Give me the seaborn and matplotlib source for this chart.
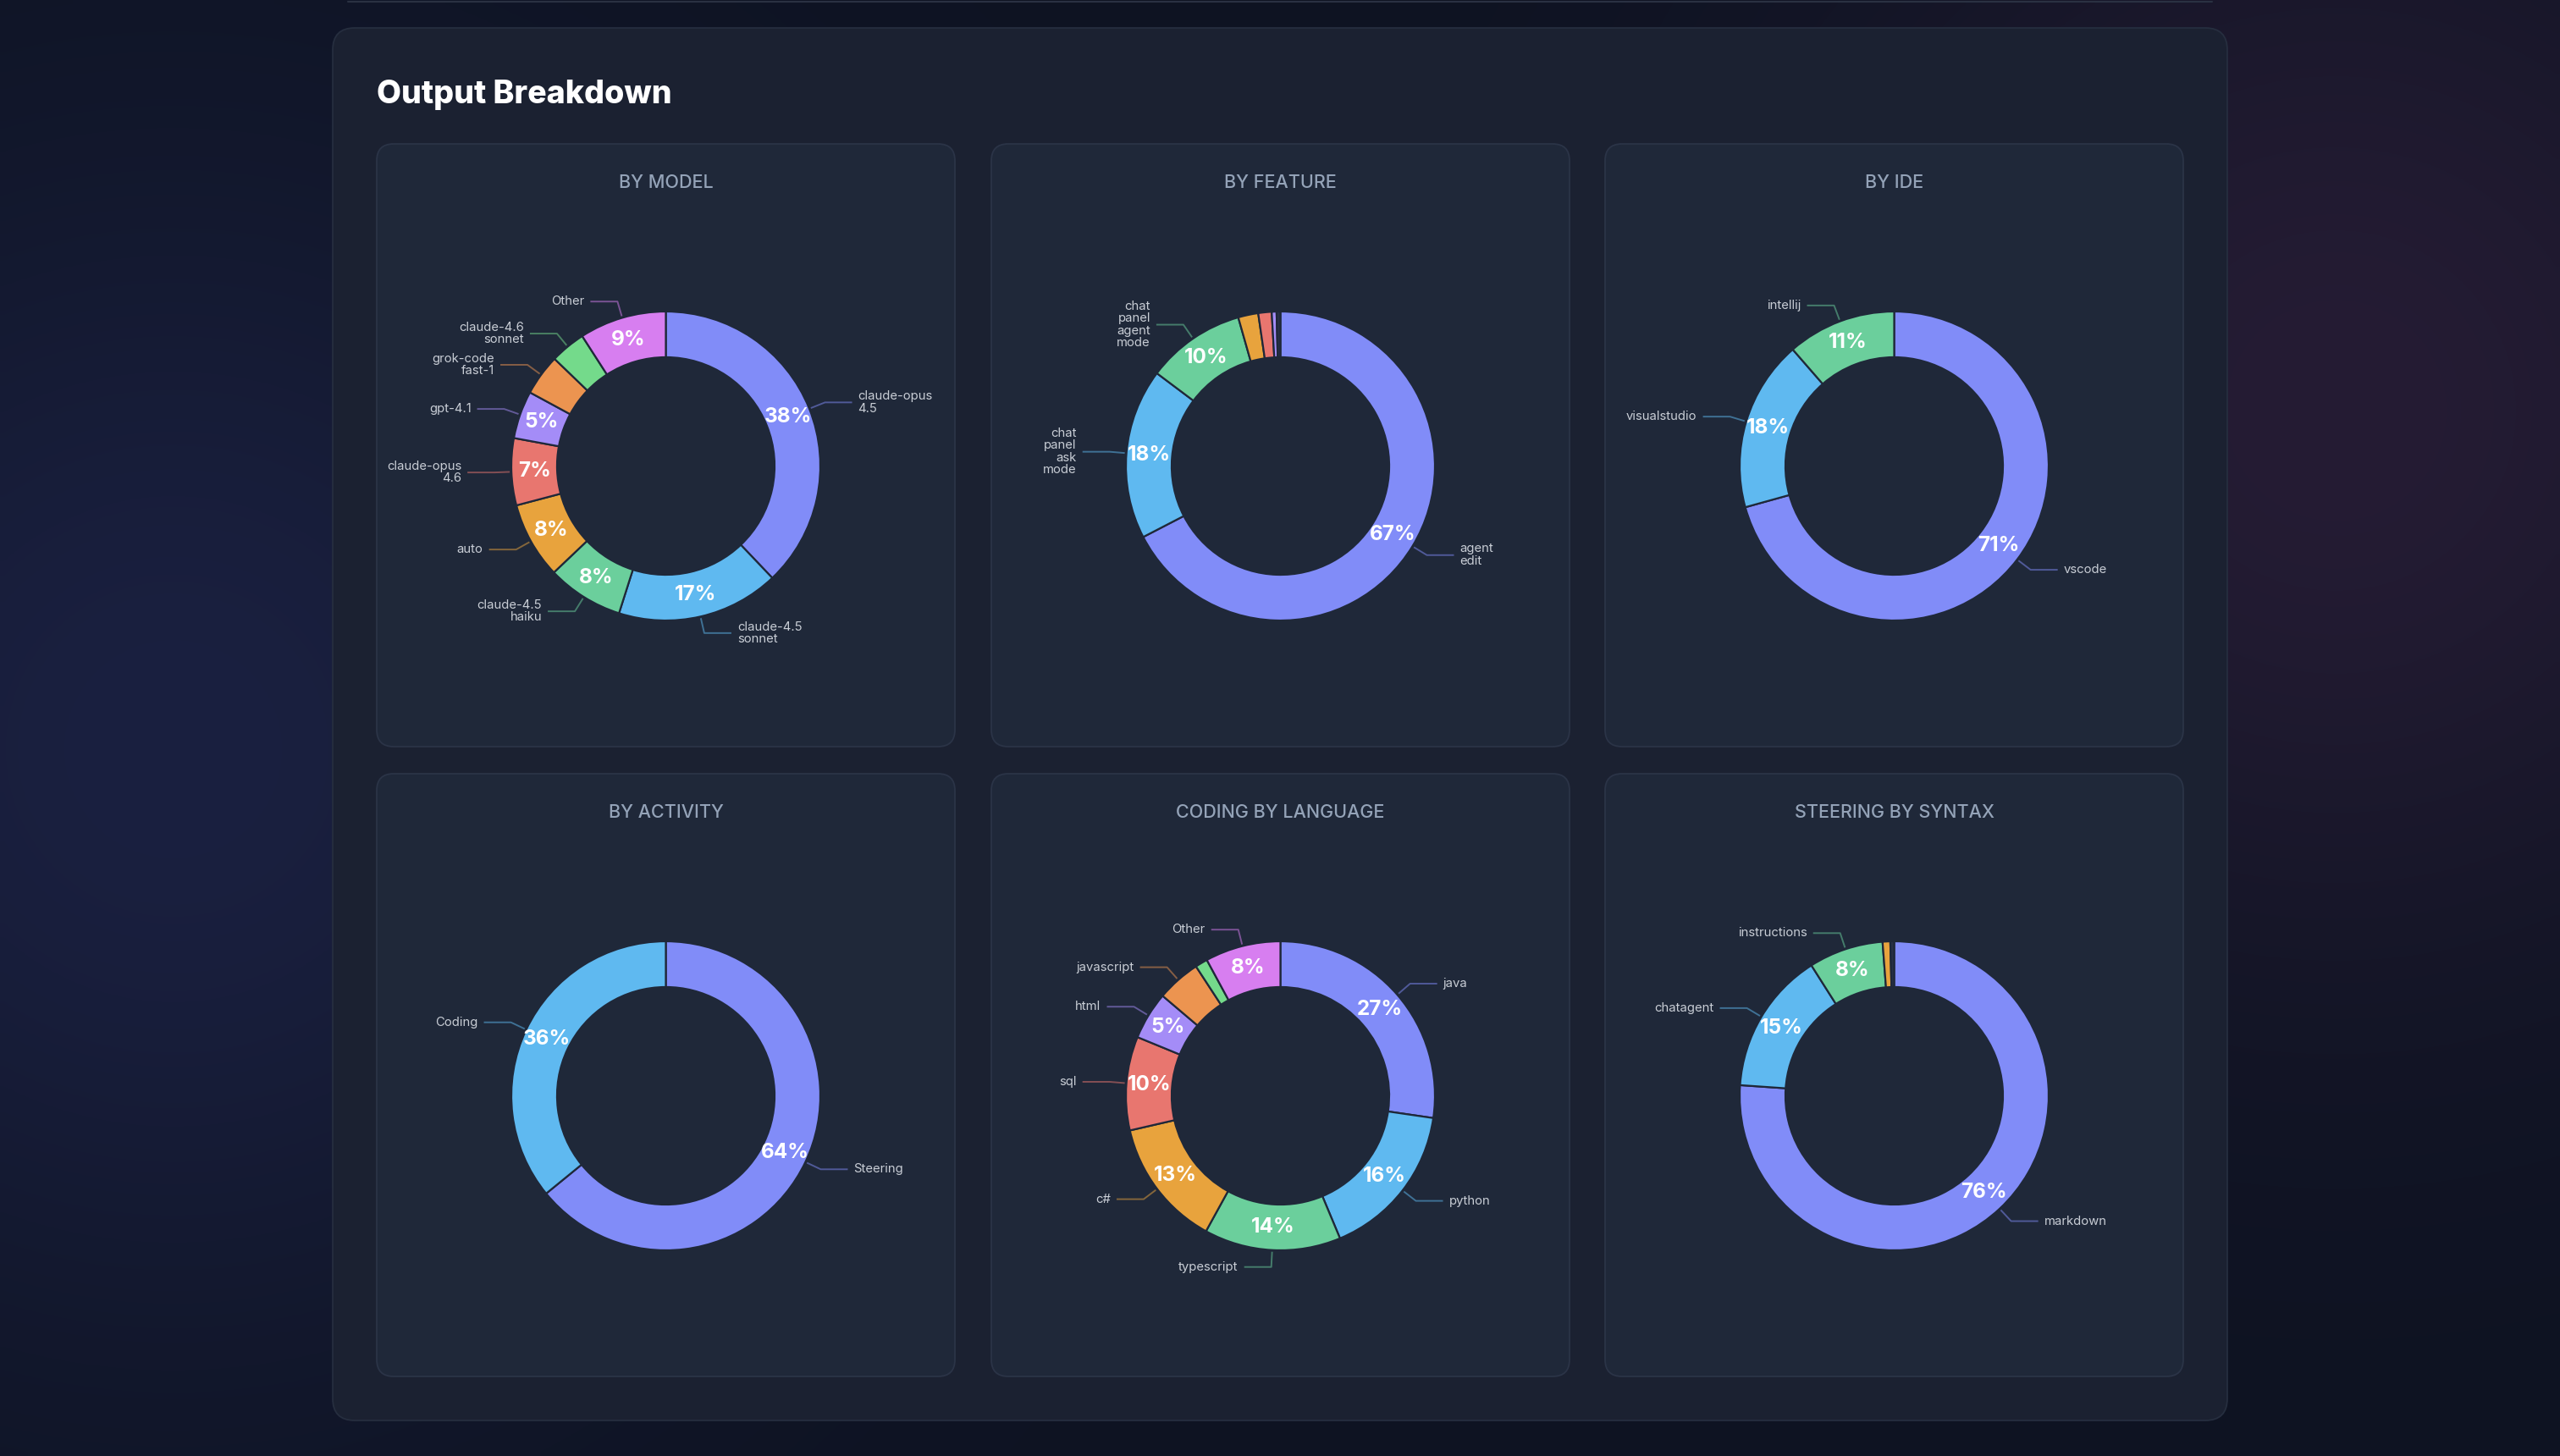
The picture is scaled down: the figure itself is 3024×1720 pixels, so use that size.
import numpy as np
import matplotlib
matplotlib.use("Agg")
import matplotlib.pyplot as plt
from matplotlib.patches import FancyBboxPatch, Rectangle
from matplotlib import colors as mcolors
import seaborn as sns

# ---------------- data ----------------
panel_titles = ["BY MODEL", "BY FEATURE", "BY IDE",
                "BY ACTIVITY", "CODING BY LANGUAGE", "STEERING BY SYNTAX"]

model_names = ["claude-opus 4.5", "claude-4.5 sonnet", "claude-4.5 haiku", "auto",
               "claude-opus 4.6", "gpt-4.1", "grok-code fast-1", "claude-4.6 sonnet", "Other"]
model_values = [37.9, 17.0, 8.0, 8.0, 7.0, 5.0, 4.3, 3.7, 9.1]

feature_names = ["agent edit", "chat panel ask mode", "chat panel agent mode",
                 "inline chat", "code review", "terminal", "misc"]
feature_values = [67.4, 17.85, 10.35, 2.1, 1.4, 0.5, 0.4]

ide_names = ["vscode", "visualstudio", "intellij"]
ide_values = [70.7, 17.9, 11.4]

activity_names = ["Steering", "Coding"]
activity_values = [64.1, 35.9]

lang_names = ["java", "python", "typescript", "c#", "sql", "html", "javascript", "css", "Other"]
lang_values = [27.3, 16.4, 14.3, 13.4, 9.8, 5.0, 4.6, 1.3, 7.9]

syntax_names = ["markdown", "chatagent", "instructions", "prompt", "misc"]
syntax_values = [76.1, 14.9, 7.8, 0.8, 0.4]

# ---------------- style ----------------
sns.set_theme(style="dark")
plt.rcParams['font.family'] = ['Inter', 'DejaVu Sans']

palette = sns.color_palette(["#818cf8", "#5fb9f0", "#6bcf9c", "#e8a33d", "#e8766f",
                             "#a48cf7", "#ec9450", "#74da8b", "#d77ef0"])
TRACE = "#283147"
PANEL_BG = "#1f2839"
CARD_BG = "#1b2131"
LABEL_COL = "#c8cdd5"
TITLE_COL = "#94a3b8"

charts = [
    (model_names, model_values, list(palette[:9])),
    (feature_names, feature_values, list(palette[:6]) + [TRACE]),
    (ide_names, ide_values, list(palette[:3])),
    (activity_names, activity_values, list(palette[:2])),
    (lang_names, lang_values, list(palette[:9])),
    (syntax_names, syntax_values, list(palette[:4]) + [TRACE]),
]

W, H = 3024, 1720
fig = plt.figure(figsize=(W / 100, H / 100), dpi=100)

# background
bg = fig.add_axes([0, 0, 1, 1])
bg.set_xlim(0, W)
bg.set_ylim(H, 0)
bg.axis("off")
gy, gx = np.mgrid[0:H:10, 0:W:10].astype(float)
img = np.ones(gx.shape + (3,)) * np.array([14, 19, 34]) / 255


def glow(cx, cy, r, col):
    d2 = ((gx - cx) ** 2 + (gy - cy) ** 2) / r ** 2
    return np.exp(-d2)[..., None] * np.array(col) / 255


img = img + glow(200, 880, 700, (12, 13, 30)) + glow(2760, 480, 620, (23, 9, 18))
img = np.clip(img, 0, 1)
bg.imshow(img, extent=(0, W, H, 0), interpolation="bilinear", aspect="auto", zorder=0)

# top line of a previous card
bg.plot([411, 2613], [1.5, 1.5], color="#2a3142", lw=1.5, zorder=1)

# card
bg.add_patch(FancyBboxPatch((393, 33), 2238, 1645,
                            boxstyle="round,pad=0,rounding_size=26",
                            fc=CARD_BG, ec="#262e3f", lw=1.3, zorder=1))
bg.text(445, 122, "Output Breakdown", color="white", fontsize=27,
        fontweight=800, ha="left", va="baseline", zorder=3)

col_x = [445, 1171, 1896]
row_y = [170, 914]
PW, PH = 683, 712
CY_TOP = 380.5
R = 182.5
RING = 54
INSET = 19

bg_rgb = np.array(mcolors.to_rgb(PANEL_BG))

for k, (names, values, cols) in enumerate(charts):
    x0 = col_x[k % 3]
    y0 = row_y[k // 3]
    bg.add_patch(FancyBboxPatch((x0, y0), PW, PH,
                                boxstyle="round,pad=0,rounding_size=20",
                                fc=PANEL_BG, ec="#2b3447", lw=1.3, zorder=2))
    ax = fig.add_axes([x0 / W, 1 - (y0 + PH) / H, PW / W, PH / H])
    ax.set_facecolor("none")
    wedges, _ = ax.pie(values, colors=cols, startangle=90, counterclock=False,
                       radius=R, center=(0, 0),
                       wedgeprops=dict(width=RING, edgecolor=PANEL_BG, linewidth=1.6))
    ax.set_aspect("auto")
    ax.set_xlim(-PW / 2, PW / 2)
    ax.set_ylim(-(PH - CY_TOP), CY_TOP)
    ax.axis("off")
    clip_rect = Rectangle((INSET / PW, INSET / PH), 1 - 2 * INSET / PW, 1 - 2 * INSET / PH,
                          transform=ax.transAxes, fc="none", ec="none")
    ax.add_patch(clip_rect)

    ax.text(0, CY_TOP - 46, panel_titles[k], ha="center", va="center",
            color=TITLE_COL, fontsize=15.5, fontweight="medium")

    total = float(sum(values))
    for w, name, v, c in zip(wedges, names, values, cols):
        pct = v / total * 100
        th = np.deg2rad((w.theta1 + w.theta2) / 2)
        ux, uy = np.cos(th), np.sin(th)
        if pct >= 5:
            rm = R - RING / 2
            ax.text(rm * ux, rm * uy, f"{pct:.0f}%", ha="center", va="center",
                    color="white", fontsize=17.5, fontweight="bold", zorder=5)
        if pct >= 3:
            lc = 0.5 * np.array(mcolors.to_rgb(c)) + 0.5 * bg_rgb
            p0 = np.array([ux, uy]) * (R + 2)
            p1 = np.array([ux, uy]) * (R + 20)
            side = 1 if ux >= 0 else -1
            p2 = p1 + np.array([side * 32, 0])
            ax.plot([p0[0], p1[0], p2[0]], [p0[1], p1[1], p2[1]],
                    color=lc, lw=1.4, solid_capstyle="butt", zorder=4)
            ha = "left" if side > 0 else "right"
            t = ax.text(p2[0] + side * 7, p2[1], name.replace(" ", "\n"), ha=ha, va="center",
                        multialignment=ha, color=LABEL_COL, fontsize=10.7,
                        linespacing=1.05, zorder=5)
            t.set_clip_path(clip_rect)

fig.savefig("out.png", dpi=100, facecolor=fig.get_facecolor())
